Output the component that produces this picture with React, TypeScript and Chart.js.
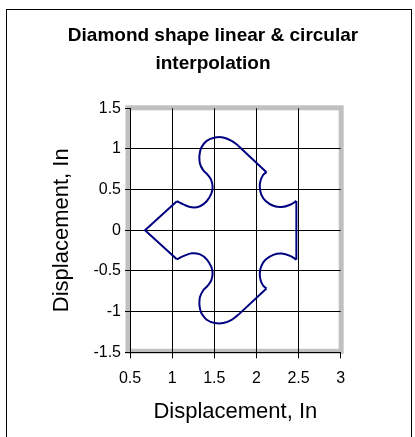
import React, { useEffect, useRef } from "react";
import { Chart, registerables } from "chart.js";

Chart.register(...registerables);

const titleLines = ["Diamond shape linear & circular", "interpolation"];
const xAxisTitle = "Displacement, In";
const yAxisTitle = "Displacement, In";
const xTickValues = [0.5, 1, 1.5, 2, 2.5, 3];
const yTickValues = [-1.5, -1, -0.5, 0, 0.5, 1, 1.5];

// Linear moves (straight segments), null separates segments
const linearX = [1.056, 0.678, 1.056, null, 1.784, 2.119, null, 2.474, 2.474, null, 2.119, 1.784];
const linearY = [-0.357, 0, 0.357, null, 1.04, 0.715, null, 0.361, -0.361, null, -0.715, -1.04];

// Circular moves (arcs), null separates arcs
const arcX = [
  1.056, 1.134, 1.233, 1.331, 1.41, 1.465, 1.48, 1.465, 1.425, 1.368, 1.331, 1.323, 1.33, 1.348, 1.41, 1.508, 1.606, 1.706, 1.784,
  null,
  2.119, 2.08, 2.05, 2.04, 2.058, 2.11, 2.2, 2.3, 2.4, 2.474,
  null,
  2.119, 2.08, 2.05, 2.04, 2.058, 2.11, 2.2, 2.3, 2.4, 2.474,
  null,
  1.056, 1.134, 1.233, 1.331, 1.41, 1.465, 1.48, 1.465, 1.425, 1.368, 1.331, 1.323, 1.33, 1.348, 1.41, 1.508, 1.606, 1.706, 1.784,
];
const arcY = [
  0.357, 0.318, 0.282, 0.296, 0.357, 0.451, 0.532, 0.613, 0.678, 0.74, 0.817, 0.898, 0.96, 1.02, 1.1, 1.141, 1.141, 1.1, 1.04,
  null,
  0.715, 0.68, 0.615, 0.532, 0.44, 0.36, 0.302, 0.286, 0.314, 0.361,
  null,
  -0.715, -0.68, -0.615, -0.532, -0.44, -0.36, -0.302, -0.286, -0.314, -0.361,
  null,
  -0.357, -0.318, -0.282, -0.296, -0.357, -0.451, -0.532, -0.613, -0.678, -0.74, -0.817, -0.898, -0.96, -1.02, -1.1, -1.141, -1.141, -1.1, -1.04,
];

const FONT = "'Liberation Sans', Arial, Helvetica, sans-serif";

const framePlugin = {
  id: "frames",
  beforeDraw(chart: any) {
    const { ctx, chartArea: a } = chart;
    ctx.save();
    ctx.strokeStyle = "#000";
    ctx.lineWidth = 1;
    ctx.strokeRect(6.5, 9.5, 405, 500);
    ctx.strokeStyle = "#c0c0c0";
    ctx.lineWidth = 5;
    ctx.strokeRect(a.left - 2, a.top - 0.5, a.right - a.left + 2.5, a.bottom - a.top - 0.5);
    ctx.restore();
  },
};

export default function App() {
  const ref = useRef<HTMLCanvasElement | null>(null);

  useEffect(() => {
    if (!ref.current) return;
    const xMax = xTickValues[xTickValues.length - 1];
    const yMax = yTickValues[yTickValues.length - 1];
    const chart = new Chart(ref.current, {
      type: "scatter",
      data: {
        datasets: [
          {
            label: "Linear",
            data: linearX.map((x, i) => ({ x, y: linearY[i] })) as any,
            showLine: true,
            borderColor: "#000080",
            borderWidth: 2,
            pointRadius: 0,
            tension: 0,
            fill: false,
            spanGaps: false,
          },
          {
            label: "Circular",
            data: arcX.map((x, i) => ({ x, y: arcY[i] })) as any,
            showLine: true,
            borderColor: "#000080",
            borderWidth: 2,
            pointRadius: 0,
            tension: 0.4,
            fill: false,
            spanGaps: false,
          },
        ],
      },
      plugins: [framePlugin],
      options: {
        responsive: false,
        animation: false,
        events: [],
        layout: { padding: { left: 20, right: 9, top: 0, bottom: 0 } },
        plugins: {
          legend: { display: false },
          tooltip: { enabled: false },
          title: {
            display: true,
            text: titleLines,
            color: "#000",
            font: { family: FONT, size: 19, weight: "bold", lineHeight: 1.458 },
            padding: { top: 21.85, bottom: 31.05 },
          },
        },
        scales: {
          x: {
            type: "linear",
            position: "bottom",
            min: xTickValues[0],
            max: xMax,
            afterBuildTicks: (axis: any) => {
              axis.ticks = xTickValues.map((v) => ({ value: v }));
            },
            afterFit: (axis: any) => {
              axis.height = 84.7;
            },
            ticks: {
              color: "#000",
              font: { family: FONT, size: 16 },
              padding: 11,
              maxRotation: 0,
              autoSkip: false,
              callback: (v: any) => String(v),
            },
            grid: {
              color: (c: any) => (c.tick && c.tick.value === xMax ? "rgba(0,0,0,0)" : "#000"),
              tickColor: "#000",
              tickLength: 6,
              lineWidth: 1,
            },
            border: { display: true, color: "#000", width: 1 },
            title: {
              display: true,
              text: xAxisTitle,
              color: "#000",
              font: { family: FONT, size: 22 },
              padding: { top: 0, bottom: 11.4 },
            },
          },
          y: {
            type: "linear",
            position: "left",
            min: yTickValues[0],
            max: yMax,
            afterBuildTicks: (axis: any) => {
              axis.ticks = yTickValues.map((v) => ({ value: v }));
            },
            afterFit: (axis: any) => {
              axis.width = 110;
            },
            ticks: {
              color: "#000",
              font: { family: FONT, size: 16 },
              padding: 4,
              autoSkip: false,
              callback: (v: any) => String(v),
            },
            grid: {
              color: (c: any) => (c.tick && c.tick.value === yMax ? "rgba(0,0,0,0)" : "#000"),
              tickColor: "#000",
              tickLength: 5,
              lineWidth: 1,
            },
            border: { display: true, color: "#000", width: 1 },
            title: {
              display: true,
              text: yAxisTitle,
              color: "#000",
              font: { family: FONT, size: 22 },
              padding: { top: 28.7, bottom: 0 },
            },
          },
          spacer: {
            type: "linear",
            position: "right",
            display: true,
            grid: { display: false, drawTicks: false },
            ticks: { display: false },
            border: { display: false },
            afterFit: (axis: any) => {
              axis.width = 65.3;
            },
          },
        },
      } as any,
    });
    return () => chart.destroy();
  }, []);

  return (
    <div style={{ position: "fixed", left: 0, top: 0, width: 415, height: 437, background: "#fff" }}>
      <canvas ref={ref} width={415} height={437} style={{ display: "block" }} />
    </div>
  );
}
